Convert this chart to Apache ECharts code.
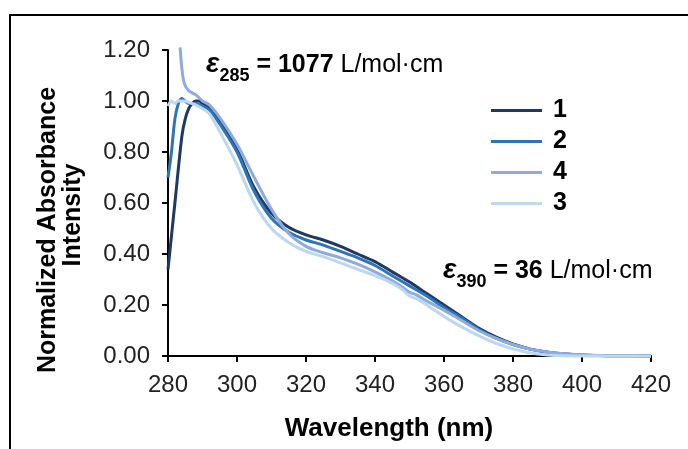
<!DOCTYPE html>
<html><head><meta charset="utf-8">
<script src="https://cdn.jsdelivr.net/npm/echarts@6/dist/echarts.min.js"></script>
<style>html,body{margin:0;padding:0;background:#fff}#c{width:688px;height:449px}</style>
</head><body><div id="c"></div>
<script>
const seriesNames = ['1','2','4','3'];
const colors = ['#203864','#2e75b6','#8faadc','#bdd7ee'];
const yTicks = ['0.00','0.20','0.40','0.60','0.80','1.00','1.20'];
const xTicks = [280,300,320,340,360,380,400,420];

const wl1 = [280,282,284,285,286,287,288,289,290,292,295,300,305,310,315,320,325,330,335,340,345,350,355,360,365,370,375,380,385,390,395,400,405,410,420];
const s1  = [0.34,0.60,0.86,0.93,0.97,0.99,1.00,1.00,0.99,0.97,0.92,0.81,0.66,0.56,0.505,0.475,0.455,0.43,0.40,0.37,0.33,0.29,0.245,0.20,0.155,0.11,0.075,0.047,0.027,0.015,0.008,0.004,0.002,0.001,0.0];

const wl2 = [280,281,282,283,284,285,286,288,290,292,295,300,305,310,315,320,325,330,335,340,345,350,355,360,365,370,375,380,385,390,395,400,405,410,420];
const s2  = [0.70,0.80,0.93,0.99,1.01,1.00,0.99,0.99,0.98,0.965,0.91,0.80,0.645,0.54,0.485,0.455,0.435,0.41,0.385,0.355,0.315,0.275,0.235,0.19,0.15,0.105,0.07,0.045,0.027,0.015,0.008,0.004,0.002,0.001,0.0];

const wl4 = [283.5,284,284.7,286,288,290,292,295,300,305,310,315,320,325,330,335,340,345,348,350,352,355,360,365,370,375,380,385,390,395,400,405,410,420];
const s4  = [1.21,1.13,1.07,1.04,1.025,1.00,0.985,0.935,0.83,0.70,0.575,0.48,0.43,0.405,0.385,0.36,0.33,0.295,0.27,0.25,0.24,0.215,0.18,0.14,0.10,0.07,0.045,0.027,0.016,0.009,0.005,0.002,0.001,0.0];

const wl3 = [280,281,282,283,284,285,286,287,288,290,292,295,300,305,310,315,320,325,330,335,340,345,348,350,352,355,360,365,370,375,380,385,390,395,400,410,420];
const s3  = [0.98,1.00,0.99,1.00,1.00,1.00,0.995,0.99,0.985,0.97,0.95,0.88,0.75,0.60,0.50,0.445,0.41,0.39,0.365,0.34,0.315,0.285,0.26,0.235,0.225,0.20,0.155,0.115,0.08,0.05,0.028,0.012,0.004,0.001,0.0,0.0,0.0];

const wls = [wl1, wl2, wl4, wl3];
const vals = [s1, s2, s4, s3];

const FONT = '"Liberation Sans", Arial, sans-serif';
const richEps = {
  e: { fontFamily: FONT, fontSize: 28, fontStyle: 'italic', fontWeight: 'bold', fill: '#000', lineHeight: 30, verticalAlign: 'bottom' },
  s: { fontFamily: FONT, fontSize: 18, fontWeight: 'bold', fill: '#000', lineHeight: 22, verticalAlign: 'bottom', padding: [0,0,-7,0] },
  b: { fontFamily: FONT, fontSize: 25, fontWeight: 'bold', fill: '#000', lineHeight: 30, verticalAlign: 'bottom' },
  r: { fontFamily: FONT, fontSize: 25, fill: '#000', lineHeight: 30, verticalAlign: 'bottom' }
};
const chart = echarts.init(document.getElementById('c'));
chart.setOption({
  animation: false,
  backgroundColor: '#fff',
  grid: { left: 168, top: 50, right: 37, bottom: 93 },
  xAxis: {
    type: 'value', min: 280, max: 420, interval: 20,
    axisLine: { lineStyle: { color: '#000', width: 2 } },
    axisTick: { show: true, length: 6, lineStyle: { color: '#000', width: 2 } },
    axisLabel: { color: '#222', fontFamily: FONT, fontSize: 24, margin: 17 },
    splitLine: { show: false }
  },
  yAxis: {
    type: 'value', min: 0, max: 1.2, interval: 0.2,
    axisLine: { show: true, lineStyle: { color: '#000', width: 2 } },
    axisTick: { show: true, length: 6, lineStyle: { color: '#000', width: 2 } },
    axisLabel: { color: '#222', fontFamily: FONT, fontSize: 24, margin: 18,
      formatter: v => yTicks[Math.round(v / 0.2)] },
    splitLine: { show: false }
  },
  legend: {
    orient: 'vertical', left: 486, top: 93, itemWidth: 51, itemHeight: 3, itemGap: 6,
    icon: 'rect',
    data: seriesNames,
    textStyle: { fontFamily: FONT, fontSize: 25, fontWeight: 'bold', color: '#000', padding: [0,0,0,6] }
  },
  series: seriesNames.map((n, i) => ({
    name: n, type: 'line', smooth: 0.3, showSymbol: false, clip: false,
    color: colors[i],
    lineStyle: { width: 3, color: colors[i] },
    data: wls[i].map((x, j) => [x, vals[i][j]])
  })),
  graphic: [
    { type: 'rect', shape: { x: 10, y: 15, width: 800, height: 600 }, style: { fill: 'none', stroke: '#000', lineWidth: 2 } },
    { type: 'text', x: 389, y: 429, style: { text: 'Wavelength (nm)', font: 'bold 26px ' + FONT, fill: '#000', align: 'center', verticalAlign: 'middle' } },
    { type: 'text', x: 48, y: 230, rotation: Math.PI / 2, style: { text: 'Normalized Absorbance', font: 'bold 25px ' + FONT, fill: '#000', align: 'center', verticalAlign: 'middle' } },
    { type: 'text', x: 73, y: 215, rotation: Math.PI / 2, style: { text: 'Intensity', font: 'bold 25px ' + FONT, fill: '#000', align: 'center', verticalAlign: 'middle' } },
    { type: 'text', x: 206, y: 48, style: { text: '{e|ε}{s|285}{b| = 1077 }{r|L/mol·cm}', rich: richEps } },
    { type: 'text', x: 443, y: 254, style: { text: '{e|ε}{s|390}{b| = 36 }{r|L/mol·cm}', rich: richEps } }
  ]
});
</script></body></html>
